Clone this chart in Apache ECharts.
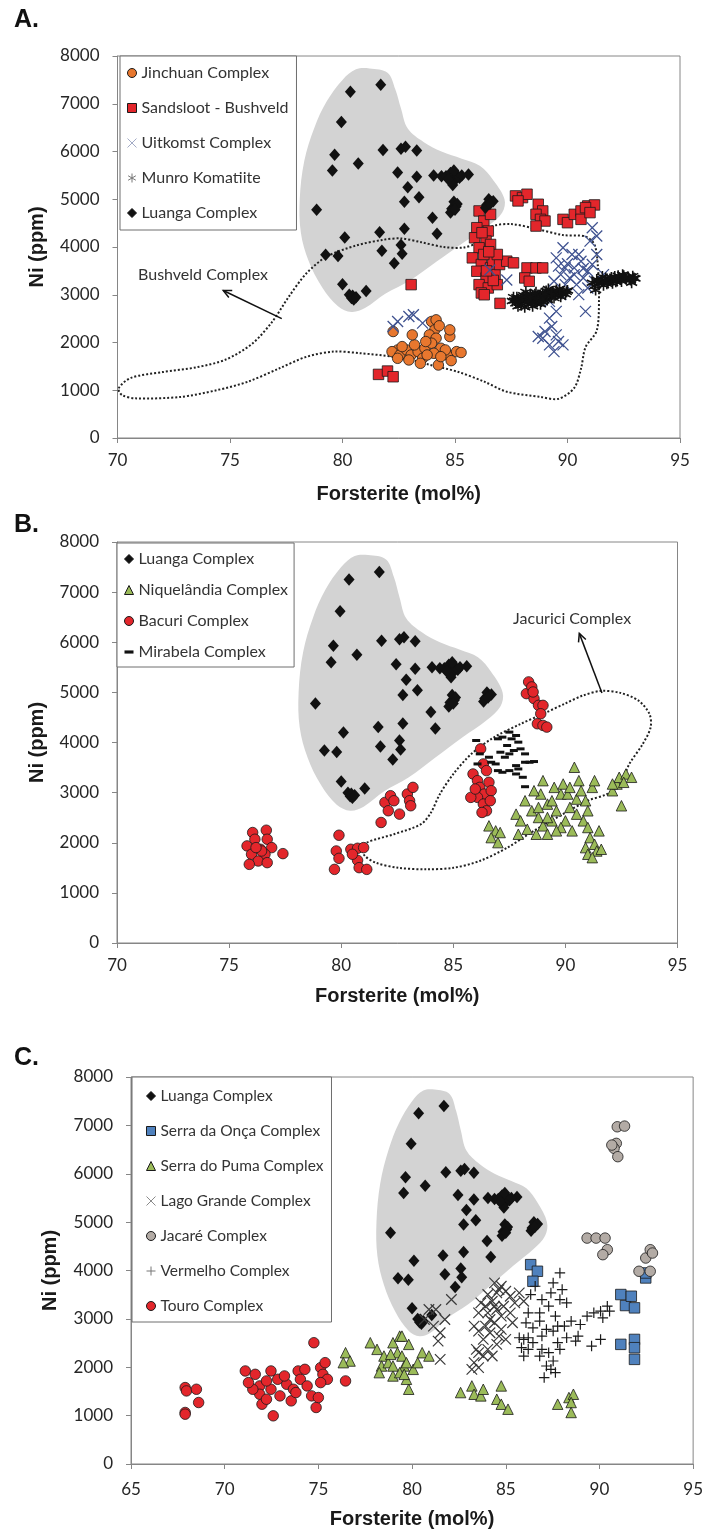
<!DOCTYPE html>
<html><head><meta charset="utf-8">
<script src="https://cdn.jsdelivr.net/npm/echarts/dist/echarts.min.js"></script>
<style>html,body{margin:0;padding:0;background:#fff}#c{width:706px;height:1530px}</style>
</head><body><div id="c"></div>
<script>
// ---------- DATA ----------
const LUANGA = [[81.7,7400],[80.35,7250],[79.95,6620],[79.65,5930],[79.55,5600],[80.7,5750],[81.8,6030],[82.6,6060],[82.8,6100],[83.3,6020],[82.45,5560],[82.9,5250],[82.75,4950],[83.4,5040],[83.3,5470],[84.05,5500],[84.4,5480],[84.6,5480],[84.8,5550],[84.9,5450],[85.0,5400],[84.9,5300],[85.1,5500],[84.7,5420],[85.2,5450],[84.95,5600],[85.6,5520],[85.3,5500],[84.85,4800],[84.95,4950],[85.05,4850],[84.8,4720],[85.1,4900],[85.0,4780],[86.4,4880],[86.5,5000],[86.6,4940],[86.35,4820],[86.7,4960],[86.55,4900],[78.85,4780],[84.0,4610],[84.2,4280],[81.65,4310],[82.75,4380],[80.1,4200],[81.75,3920],[82.6,4040],[82.65,3860],[82.3,3660],[79.25,3840],[79.8,3810],[80.0,3220],[80.3,3000],[80.4,2930],[80.5,2900],[80.45,2980],[80.6,2950],[81.05,3080]];
const LUANGA_FIELD = [[81.2,7740],[82.0,7650],[82.35,7300],[82.6,6900],[82.9,6480],[83.6,6200],[84.4,6000],[85.3,5850],[86.1,5700],[86.7,5400],[87.2,5000],[87.1,4720],[86.5,4450],[85.4,4100],[84.2,3700],[83.0,3300],[81.9,3020],[81.0,2720],[80.4,2640],[79.8,2760],[79.1,3150],[78.5,3700],[78.15,4300],[78.1,5000],[78.3,5800],[78.75,6500],[79.3,7050],[80.0,7500],[80.6,7720]];

// Panel A
const JINCHUAN = [[82.25,2230],[82.45,1844],[82.2,1809],[82.55,1739],[82.85,1844],[83.05,1739],[83.36,1809],[83.2,1950],[83.66,1880],[83.56,1669],[83.46,1564],[83.96,2440],[84.1,2265],[83.86,2160],[84.16,2090],[83.96,1985],[84.37,1880],[84.06,1774],[83.76,1739],[84.67,1739],[84.57,1844],[84.77,2125],[84.77,2265],[84.26,1529],[84.83,1620],[85.07,1809],[85.27,1790],[84.16,2475],[82.65,1914],[83.1,2160],[84.37,1704],[82.45,1669],[82.95,1634],[84.3,2350],[83.7,2020]];
const SANDSLOOT = [[86.07,4755],[86.28,4544],[86.58,4684],[85.97,4404],[86.48,4334],[85.87,4193],[86.38,4123],[86.07,3983],[86.58,4053],[85.77,3773],[86.17,3633],[86.58,3562],[85.97,3492],[86.38,3352],[86.78,3422],[86.07,3212],[86.48,3142],[86.17,3037],[86.88,3212],[86.68,3703],[86.98,3633],[87.3,3703],[87.6,3668],[87.0,2820],[86.88,3843],[86.28,3843],[87.69,5070],[88.0,5035],[88.2,5105],[87.8,4965],[88.7,4895],[88.9,4755],[88.6,4684],[88.8,4579],[89.0,4544],[88.6,4439],[89.8,4579],[90.0,4509],[90.3,4684],[90.6,4755],[90.9,4860],[91.2,4881],[90.6,4579],[90.8,4825],[91.0,4720],[88.2,3562],[88.6,3562],[88.9,3562],[88.1,3352],[88.3,3282],[83.05,3212],[81.6,1332],[82.0,1402],[82.25,1283],[86.3,3000],[86.7,3300],[86.4,3500],[86.2,4300],[86.5,3900]];
const UITKOMST = [[82.45,2440],[82.95,2546],[83.15,2580],[83.56,2405],[82.25,2335],[89.5,3773],[89.8,3983],[90.2,3843],[89.9,3562],[90.3,3562],[90.6,3703],[90.9,3492],[91.1,3633],[91.3,3843],[91.0,4123],[91.1,4404],[91.3,4229],[90.7,3352],[90.4,3212],[90.1,3352],[89.7,3422],[89.4,3282],[90.9,3142],[91.2,3282],[91.6,3422],[90.5,3002],[90.8,2651],[89.7,3002],[89.2,2861],[89.5,2651],[89.2,2510],[89.3,2335],[89.0,2230],[89.5,2160],[88.9,2090],[89.2,1950],[89.6,2020],[89.8,1950],[89.4,1809],[88.7,2125],[89.9,3212],[90.3,3422],[90.5,3843],[87.3,3308],[86.55,3518],[90.0,3650],[90.7,3550],[89.6,3600]];
const MUNRO = [[87.55,2870],[87.7,2820],[87.75,2950],[87.9,2900],[87.95,2780],[88.05,2990],[88.1,2860],[88.2,2930],[88.25,2800],[88.35,3010],[88.4,2880],[88.5,2950],[88.55,2830],[88.6,3050],[88.7,2910],[88.75,2990],[88.85,2860],[88.9,3040],[89.0,2940],[89.05,3080],[89.1,2890],[89.2,3000],[89.3,2950],[89.35,3070],[89.45,2990],[89.5,3100],[89.6,3030],[89.7,2960],[89.8,3070],[89.9,3010],[90.0,3090],[88.15,3060],[88.45,2760],[89.15,3120],[87.6,2950],[88.0,2870],[88.8,2800],
  [87.65,2880],[87.85,2840],[88.0,2950],[88.3,2900],[88.45,2990],[88.65,2850],[88.8,2960],[88.95,2880],[89.1,2970],[89.25,3050],[89.4,2930],[89.55,3060],[89.75,3020],[89.95,3060],[88.2,2990],[88.55,3010],[88.9,2920],[89.3,3010],[88.6,2900],[88.4,2830],[87.8,2760],[88.1,2740],[89.0,3020],[89.65,3120],[88.35,2950],
  [91.1,3250],[91.2,3180],[91.3,3320],[91.4,3230],[91.5,3290],[91.6,3200],[91.7,3350],[91.8,3270],[91.9,3320],[92.0,3240],[92.1,3380],[92.2,3300],[92.3,3350],[92.4,3280],[92.5,3400],[92.6,3330],[92.7,3370],[92.8,3310],[92.9,3390],[93.0,3340],[91.55,3380],[92.05,3310],[92.45,3420],[91.25,3100],[92.85,3250],
  [91.35,3280],[91.65,3290],[91.95,3360],[92.15,3270],[92.35,3320],[92.55,3360],[92.75,3330],[92.95,3350],[91.75,3230],[92.25,3400]];
const BUSHVELD_FIELD = [[70.05,1040],[70.6,1260],[72.0,1380],[73.5,1480],[74.8,1640],[76.0,1980],[76.9,2450],[77.6,2950],[78.4,3450],[79.3,3800],[80.6,4030],[81.8,4150],[82.6,4180],[83.5,4100],[84.5,4000],[85.4,3990],[86.0,4100],[86.6,4420],[87.5,4480],[88.6,4380],[89.8,4250],[90.8,4220],[91.2,4050],[91.35,3600],[91.4,2900],[91.3,2250],[90.8,1900],[90.6,1450],[90.3,1050],[89.6,820],[88.8,860],[87.3,970],[86.3,1180],[85.1,1390],[83.9,1530],[83.1,1630],[82.3,1700],[80.8,1775],[79.6,1810],[78.4,1700],[77.2,1460],[75.8,1180],[74.4,1000],[72.8,860],[70.8,830],[70.2,900]];

// Panel B
const NIQUELANDIA = [[86.59,2337],[86.89,2237],[86.69,2103],[86.99,2003],[87.09,2204],[87.8,2571],[88.0,2437],[88.3,2270],[87.9,2170],[88.5,2638],[88.8,2504],[89.0,2337],[88.7,2170],[89.2,2170],[88.9,2972],[89.2,2771],[89.5,3105],[89.8,2972],[89.6,2638],[90.0,2437],[89.8,2304],[89.4,2437],[90.2,2705],[90.5,2871],[90.4,3506],[90.6,3239],[90.7,3038],[90.9,2838],[91.0,2638],[90.8,2437],[90.3,2237],[91.0,2304],[91.1,2103],[91.3,1970],[90.9,1903],[91.0,1770],[91.4,1836],[91.2,1703],[91.6,1870],[91.5,2237],[91.2,3105],[91.3,3239],[89.0,3239],[88.6,3038],[88.2,2838],[90.1,2972],[89.9,3172],[92.1,3038],[92.3,3172],[92.4,3306],[92.7,3372],[92.95,3306],[92.5,2738],[92.6,3206],[92.1,3172],[89.4,2838],[89.6,2237],[90.5,2571],[90.2,3105],[89.2,2504],[88.8,2705]];
const BACURI = [[75.8,1937],[76.05,2204],[76.15,2070],[76.4,1870],[76.0,1770],[76.66,2250],[76.7,2070],[76.9,1903],[76.6,1770],[76.3,1636],[75.9,1569],[76.7,1603],[77.4,1783],[76.45,1836],[76.2,1903],
  [79.9,2150],[79.78,1836],[79.9,1689],[79.7,1469],[80.43,1870],[80.73,1890],[81.0,1903],[80.73,1649],[80.8,1503],[81.14,1469],[80.5,1770],
  [81.78,2404],[81.95,2805],[82.1,2638],[82.2,2938],[82.35,2838],[82.6,2571],[82.95,2972],[83.05,2838],[83.2,3105],[83.1,2738],
  [86.22,3873],[85.88,3372],[86.08,3239],[86.34,3572],[86.48,3439],[86.18,3105],[86.59,3206],[86.38,2972],[86.08,2905],[85.78,2905],[86.69,3038],[86.34,2771],[86.48,2638],[86.65,2838],[86.28,2604],[85.98,3072],
  [88.36,5209],[88.26,4975],[88.5,5109],[88.6,4875],[88.8,4741],[89.0,4741],[88.9,4574],[88.75,4374],[89.0,4341],[89.17,4307],[88.56,5008]];
const MIRABELA = [[86.02,4040],[86.18,3773],[86.08,3572],[86.59,3706],[86.69,3606],[86.99,4073],[87.19,4107],[87.5,4207],[87.6,4073],[87.8,4140],[87.9,4007],[87.4,3940],[87.7,3840],[88.0,3873],[88.2,3773],[87.1,3806],[87.3,3706],[88.2,3606],[88.4,3606],[88.6,3620],[87.8,3539],[86.99,3439],[87.19,3406],[87.5,3439],[87.8,3372],[88.1,3306],[88.2,3118],[87.9,3472],[87.5,3773],[86.89,3572]];
const JACURICI_FIELD = [[81.14,2003],[82.35,2170],[83.56,2370],[84.0,2600],[84.4,2970],[85.0,3370],[85.8,3770],[86.8,4100],[88.0,4370],[89.0,4570],[90.0,4780],[90.8,4940],[91.6,5030],[92.45,4990],[93.25,4840],[93.75,4570],[93.8,4300],[93.45,3970],[92.85,3570],[92.45,3170],[91.85,2970],[91.0,2840],[90.0,2600],[88.6,2240],[87.4,1900],[86.2,1640],[85.0,1500],[83.8,1470],[82.55,1500],[81.55,1600],[81.05,1740],[80.95,1870]];

// Panel C
const SERRA_ONCA = [[86.33,4121],[86.69,3984],[86.45,3777],[91.39,3276],[91.14,3503],[91.7,3468],[91.87,3228],[91.14,2473],[91.87,2575],[91.87,2404],[91.87,2163],[92.47,3846],[92.47,3949]];
const SERRA_PUMA = [[76.45,2301],[76.69,2129],[76.33,2095],[77.77,2507],[78.13,2370],[78.5,2232],[78.37,2026],[78.25,1889],[78.73,2095],[78.98,2507],[79.34,2644],[79.22,2301],[79.46,2232],[79.58,2026],[78.98,1820],[79.34,1889],[79.7,1751],[79.82,1545],[79.82,2473],[80.06,1957],[80.3,2095],[80.54,2301],[80.9,2232],[79.7,2095],[78.98,2026],[78.86,2267],[79.46,2644],[79.58,1854],
  [82.59,1477],[83.19,1614],[83.31,1442],[83.67,1408],[83.8,1545],[84.76,1614],[84.52,1339],[84.76,1236],[85.12,1133],
  [87.77,1236],[88.37,1374],[88.61,1442],[88.49,1271],[88.49,1065]];
const LAGO_GRANDE = [[81.14,2850],[81.5,2713],[81.75,2988],[82.1,3400],[81.39,2541],[81.27,3194],[80.66,2988],[80.9,3194],[81.5,2163],
  [83.19,1957],[83.31,2095],[83.55,1992],[83.43,2370],[83.8,2576],[83.55,2747],[83.92,2850],[84.04,3125],[83.67,3331],[84.28,3365],[84.52,3537],[84.4,3743],[84.76,3674],[85.0,3571],[85.24,3468],[84.52,3194],[84.76,3056],[84.4,2919],[84.16,2713],[84.64,2644],[84.52,2473],[84.04,2370],[84.28,2232],[83.8,2232],[84.88,3262],[85.24,3125],[85.48,3331],[85.72,3537],[85.36,2919],[84.04,3503],[83.55,3125],[83.31,2850],[84.4,3262],[83.92,3262],[84.76,2782],[85.0,2576],[84.16,2988],[84.64,3605],[85.96,3365],[83.55,2301]];
const JACARE = [[90.95,6971],[91.34,6985],[90.9,6628],[90.78,6525],[90.98,6353],[90.66,6593],[89.34,4670],[89.82,4670],[90.3,4670],[90.42,4430],[90.18,4327],[92.47,4258],[92.71,4430],[92.83,4361],[92.11,3984],[92.71,3984]];
const VERMELHO = [[87.89,3949],[87.53,3743],[87.41,3537],[88.01,3605],[86.57,3674],[86.33,3503],[86.93,3400],[86.81,3125],[87.29,3262],[87.89,3400],[88.25,3331],[87.65,3056],[86.2,3125],[86.08,2919],[86.45,2816],[86.81,2953],[85.72,2610],[85.96,2576],[85.84,2404],[86.2,2370],[86.45,2507],[86.93,2644],[87.17,2782],[87.53,2747],[87.77,2850],[88.13,2850],[88.49,2953],[88.98,2884],[86.93,2370],[87.29,2301],[87.53,2129],[87.17,2026],[87.41,1957],[87.05,1786],[87.65,1889],[87.77,2507],[87.89,2370],[86.81,2232],[85.96,2232],[89.34,3056],[89.58,2438],[89.7,3125],[90.06,3159],[90.18,3022],[90.42,3262],[90.54,3159],[90.06,2576],[88.86,2644],[88.73,2541],[88.25,2610],[86.2,2610]];
const TOURO = [[67.89,1580],[67.96,1511],[68.49,1545],[68.61,1271],[67.89,1065],[67.89,1030],[71.1,1923],[71.63,1854],[71.87,1614],[71.87,1442],[71.99,1236],[72.47,1923],[72.83,1751],[72.47,1545],[72.23,1339],[72.59,996],[72.95,1408],[73.31,1648],[73.67,1545],[73.92,1923],[74.04,1751],[74.28,1957],[74.4,1614],[74.64,1408],[74.76,2507],[74.88,1168],[75.0,1374],[75.12,1992],[75.24,1854],[75.36,2095],[75.48,1751],[75.12,1683],[76.45,1717],[73.55,1305],[73.19,1820],[71.5,1545],[71.27,1683],[72.23,1717],[73.8,1477]];

// annotations (data coordinates)
const BUSHVELD_LABEL = {text:'Bushveld Complex', at:[73.8,3420], tail:[77.3,2500], head:[74.7,3090]};
const JACURICI_LABEL = {text:'Jacurici Complex', at:[90.3,6464], tail:[91.63,4988], head:[90.62,6177]};

// ---------- CHART ----------
const chart = echarts.init(document.getElementById('c'), null, {renderer:'canvas'});
const AX = '#868686';
const SYM = {
  x: 'path://M0,0L10,10M0,10L10,0',
  star: 'path://M5,0L5,10M0.7,2.5L9.3,7.5M0.7,7.5L9.3,2.5',
  plus: 'path://M5,0L5,10M0,5L10,5',
  dash: 'path://M0,0L10,0L10,3.5L0,3.5Z'
};
function sc(name, data, g, sym, size, color, stroke, bw) {
  const stroked = (sym === SYM.x || sym === SYM.star || sym === SYM.plus);
  return {type:'scatter', name, data, xAxisIndex:g, yAxisIndex:g, symbol:sym, symbolSize:size,
    itemStyle: stroked ? {color:'none', borderColor:color, borderWidth:bw||1.2, opacity:1}
                       : {color:color, borderColor:stroke||'#1a1a1a', borderWidth:bw===undefined?0.8:bw, opacity:1},
    emphasis:{disabled:true}, silent:true, z:3};
}
function field(points, g, style, smooth) {
  return {type:'custom', xAxisIndex:g, yAxisIndex:g, data:[points[0]], silent:true, z:1,
    renderItem: function(params, api){
      const pts = points.map(p => api.coord(p));
      return {type:'polygon', shape:{points:pts, smooth:smooth}, style:style};
    }};
}
function annot(a, g) {
  return {type:'custom', xAxisIndex:g, yAxisIndex:g, data:[a.at], silent:true, z:5,
    renderItem: function(params, api){
      const t = api.coord(a.tail), h = api.coord(a.head), c = api.coord(a.at);
      const ang = Math.atan2(h[1]-t[1], h[0]-t[0]);
      const L = 9, w = 0.45;
      const a1 = [h[0]-L*Math.cos(ang-w), h[1]-L*Math.sin(ang-w)];
      const a2 = [h[0]-L*Math.cos(ang+w), h[1]-L*Math.sin(ang+w)];
      return {type:'group', children:[
        {type:'line', shape:{x1:t[0],y1:t[1],x2:h[0],y2:h[1]}, style:{stroke:'#111', lineWidth:1.5}},
        {type:'polyline', shape:{points:[a1,h,a2]}, style:{stroke:'#111', lineWidth:1.5, fill:null}},
        {type:'text', x:c[0], y:c[1], style:{text:a.text, fill:'#333', fontSize:16, fontFamily:'Lato', align:'center', verticalAlign:'middle'}}
      ]};
    }};
}
const FIELD_STYLE = {fill:'#d3d3d3', stroke:null};
const DOT_STYLE = {fill:null, stroke:'#222', lineWidth:2, lineDash:[2,2]};

function xAx(g, min, margin, gap) {
  return {gridIndex:g, type:'value', min:min, max:95, interval:5,
    name:'Forsterite (mol%)', nameLocation:'middle', nameGap:gap,
    nameTextStyle:{fontFamily:'Liberation Sans', fontWeight:'bold', fontSize:20, color:'#1a1a1a'},
    axisLine:{show:true, onZero:false, lineStyle:{color:AX, width:1}},
    axisTick:{show:true, inside:false, length:5, lineStyle:{color:AX}},
    splitLine:{show:false},
    axisLabel:{fontFamily:'Lato', fontSize:17, color:'#262626', margin:margin}};
}
function yAx(g, gap, margin) {
  return {gridIndex:g, type:'value', min:0, max:8000, interval:1000,
    name:'Ni (ppm)', nameLocation:'middle', nameGap:gap,
    nameTextStyle:{fontFamily:'Liberation Sans', fontWeight:'bold', fontSize:20, color:'#1a1a1a'},
    axisLine:{show:true, onZero:false, lineStyle:{color:AX, width:1}},
    axisTick:{show:true, inside:false, length:5, lineStyle:{color:AX}},
    splitLine:{show:false},
    axisLabel:{fontFamily:'Lato', fontSize:17, color:'#262626', margin:margin, formatter: v => String(v)}};
}
function leg(names, left, top, pad, gap, fs) {
  return {data:names, orient:'vertical', left:left, top:top, padding:pad, itemGap:gap,
    itemWidth:9, itemHeight:9, selectedMode:false, backgroundColor:'#fff',
    borderColor:'#6e6e6e', borderWidth:1,
    itemStyle:{borderWidth:1},
    textStyle:{fontFamily:'Lato', fontSize:fs, color:'#333', lineHeight:18}};
}

const A_NAMES = ['Jinchuan Complex','Sandsloot - Bushveld','Uitkomst Complex','Munro Komatiite','Luanga Complex'];
const B_NAMES = ['Luanga Complex','Niquelândia Complex','Bacuri Complex','Mirabela Complex'];
const C_NAMES = ['Luanga Complex','Serra da Onça Complex','Serra do Puma Complex','Lago Grande Complex','Jacaré Complex','Vermelho Complex','Touro Complex'];
const LEGEND_TINT = {'Uitkomst Complex':'#a3abc6','Munro Komatiite':'#777','Lago Grande Complex':'#8a8a8a','Vermelho Complex':'#777'};
function legItems(names) {
  return names.map(n => {
    if (n === 'Mirabela Complex') return {name:n, icon:SYM.dash, itemStyle:{color:'#111', borderWidth:0}};
    if (LEGEND_TINT[n]) return {name:n, itemStyle:{borderColor:LEGEND_TINT[n]}};
    return n;
  });
}

const series = [
  // A
  field(LUANGA_FIELD, 0, FIELD_STYLE, 0.35),
  field(BUSHVELD_FIELD, 0, DOT_STYLE, 0.3),
  sc('Jinchuan Complex', JINCHUAN, 0, 'circle', 10.5, '#e8772e'),
  sc('Sandsloot - Bushveld', SANDSLOOT, 0, 'rect', 10.5, '#e3262b'),
  sc('Uitkomst Complex', UITKOMST, 0, SYM.x, 11, '#3f5290', null, 1.3),
  sc('Munro Komatiite', MUNRO, 0, SYM.star, 11, '#111', null, 1.6),
  sc('Luanga Complex', LUANGA, 0, 'diamond', [11,12.5], '#111', '#111', 0),
  annot(BUSHVELD_LABEL, 0),
  // B
  field(LUANGA_FIELD, 1, FIELD_STYLE, 0.35),
  field(JACURICI_FIELD, 1, DOT_STYLE, 0.3),
  sc('Luanga Complex', LUANGA, 1, 'diamond', [11,12.5], '#111', '#111', 0),
  sc('Niquelândia Complex', NIQUELANDIA, 1, 'triangle', 10.5, '#9bbb59'),
  sc('Bacuri Complex', BACURI, 1, 'circle', 10.5, '#e3262b'),
  sc('Mirabela Complex', MIRABELA, 1, 'rect', [8,3], '#111', '#111', 0),
  annot(JACURICI_LABEL, 1),
  // C
  field(LUANGA_FIELD, 2, FIELD_STYLE, 0.35),
  sc('Luanga Complex', LUANGA, 2, 'diamond', [11,12.5], '#111', '#111', 0),
  sc('Serra da Onça Complex', SERRA_ONCA, 2, 'rect', 10.5, '#4f81bd'),
  sc('Serra do Puma Complex', SERRA_PUMA, 2, 'triangle', 10.5, '#9bbb59'),
  sc('Lago Grande Complex', LAGO_GRANDE, 2, SYM.x, 10.5, '#3a3a3a', null, 1.2),
  sc('Jacaré Complex', JACARE, 2, 'circle', 10.5, '#b3aba5'),
  sc('Vermelho Complex', VERMELHO, 2, SYM.plus, 10.5, '#1a1a1a', null, 1.2),
  sc('Touro Complex', TOURO, 2, 'circle', 10.5, '#e3262b')
];

chart.setOption({
  animation:false,
  backgroundColor:'#fff',
  grid:[
    {left:117.5, top:56, width:562.5, height:382, show:true, borderColor:AX, borderWidth:1, backgroundColor:'transparent'},
    {left:117, top:542, width:560.5, height:401, show:true, borderColor:AX, borderWidth:1, backgroundColor:'transparent'},
    {left:131, top:1077, width:564, height:388, show:true, borderColor:AX, borderWidth:1, backgroundColor:'transparent'}
  ],
  xAxis:[xAx(0,70,14,46), xAx(1,70,14,43), xAx(2,65,17,45)],
  yAxis:[yAx(0,70,18), yAx(1,70,18), yAx(2,71,18)],
  legend:[
    leg(legItems(A_NAMES), 120, 56, [8,8,8,5], 17, 16),
    leg(legItems(B_NAMES), 117, 543, [7,6,6,7], 13, 16),
    leg(legItems(C_NAMES), 132, 1077, [10,8,7,12], 17, 15.5)
  ],
  graphic:[
    {type:'text', left:14, top:8, style:{text:'A.', font:'bold 25px "Liberation Sans"', fill:'#111'}},
    {type:'text', left:14, top:513, style:{text:'B.', font:'bold 25px "Liberation Sans"', fill:'#111'}},
    {type:'text', left:14, top:1046, style:{text:'C.', font:'bold 25px "Liberation Sans"', fill:'#111'}}
  ],
  series: series
});
</script></body></html>
